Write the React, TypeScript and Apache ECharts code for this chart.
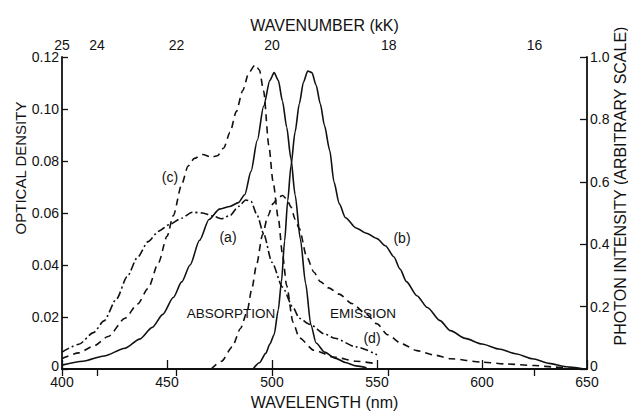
import React, { useEffect, useRef } from 'react';
import * as echarts from 'echarts';

// ---- data ----
// absorption, optical density (left axis)
const absorptionA: [number, number][] = [
  [400, 0.0015], [410, 0.003], [420, 0.005], [430, 0.008], [437, 0.0115], [443, 0.016],
  [448, 0.021], [453, 0.0275], [457, 0.0335], [461, 0.040], [465.5, 0.0495], [470, 0.0575],
  [475, 0.0615], [480, 0.0625], [484, 0.064], [487, 0.067], [490, 0.076], [493, 0.088],
  [496, 0.101], [499, 0.111], [501, 0.114], [503, 0.111], [505, 0.103], [507, 0.093],
  [509, 0.081], [511, 0.067], [513.5, 0.050], [516, 0.033], [518.5, 0.017], [521, 0.010],
  [525, 0.0065], [530, 0.0042], [535, 0.0025], [540, 0.0012], [545, 0.0005],
];
const absorptionC: [number, number][] = [
  [400, 0.004], [408, 0.0062], [415, 0.0088], [422, 0.0125], [430, 0.0195], [436, 0.025],
  [441, 0.031], [446, 0.041], [450, 0.051], [453, 0.059], [457, 0.071], [460, 0.078],
  [463, 0.081], [467, 0.0825], [471, 0.0815], [474, 0.082], [477, 0.085], [480, 0.091],
  [483, 0.099], [486, 0.107], [489, 0.114], [492, 0.117], [494, 0.115], [496, 0.107],
  [498.5, 0.086], [500.5, 0.072], [503, 0.058], [505, 0.044], [507, 0.032], [510, 0.018],
  [513, 0.012], [520, 0.0072], [530, 0.0045], [540, 0.003], [550, 0.002],
];
const absorptionDashDot: [number, number][] = [
  [400, 0.0065], [408, 0.0095], [415, 0.014], [420, 0.0185], [426, 0.027], [431, 0.0355],
  [436, 0.043], [441, 0.049], [446, 0.053], [451, 0.0555], [457, 0.058], [462, 0.0603],
  [467, 0.06], [472, 0.0588], [476, 0.0578], [480, 0.059], [484, 0.0625], [487.5, 0.065],
  [490, 0.0645], [493, 0.059], [496, 0.052], [500, 0.041], [505, 0.0315], [510, 0.0237],
  [513, 0.0195], [518, 0.0172], [525, 0.0135], [530, 0.0118], [540, 0.0085], [550, 0.0055],
];
// emission, photon intensity (right axis)
const emissionB: [number, number][] = [
  [491, 0], [494, 0.02], [497, 0.05], [499, 0.08], [501, 0.11], [503, 0.19], [504.5, 0.28],
  [506, 0.41], [507.5, 0.54], [509, 0.65], [511, 0.76], [513, 0.85], [515, 0.92],
  [517, 0.955], [519, 0.95], [521, 0.91], [523, 0.85], [525, 0.78], [527.5, 0.70],
  [529.5, 0.60], [532, 0.53], [535, 0.485], [540, 0.452], [545, 0.435], [550, 0.418],
  [554, 0.395], [558, 0.36], [561, 0.32], [564, 0.28], [569, 0.235], [574, 0.197],
  [580, 0.155], [585, 0.123], [592, 0.098], [600, 0.08], [608, 0.064], [616, 0.049],
  [624, 0.033], [632, 0.018], [640, 0.007], [648, 0.001],
];
const emissionD: [number, number][] = [
  [471, 0], [476, 0.025], [481, 0.07], [485, 0.13], [488, 0.18], [490.5, 0.26],
  [492.5, 0.33], [495.5, 0.43], [498, 0.49], [500.5, 0.53], [503, 0.55], [505, 0.556],
  [507, 0.545], [509, 0.52], [511, 0.48], [513, 0.45], [516.5, 0.36], [520, 0.31],
  [523, 0.28], [527, 0.26], [532, 0.24], [538, 0.21], [545, 0.175], [550, 0.145],
  [555, 0.11], [562, 0.08], [569, 0.059], [577, 0.045], [585, 0.033], [600, 0.022],
  [612, 0.016], [625, 0.011], [635, 0.006], [643, 0.002],
];

const wavenumberTicks = [25, 24, 22, 20, 18, 16]; // kK, top axis
const labelTexts = ['(a)', '(b)', '(c)', '(d)', 'ABSORPTION', 'EMISSION'];

const FONT = '"Liberation Sans", Arial, sans-serif';
const INK = '#111';

export default function App() {
  const ref = useRef<HTMLDivElement>(null);
  useEffect(() => {
    if (!ref.current) return;
    const chart = echarts.init(ref.current, undefined, { renderer: 'svg' });
    const line = (data: [number, number][], type: any, yAxisIndex = 0) => ({
      type: 'line',
      data,
      yAxisIndex,
      showSymbol: false,
      symbol: 'none',
      smooth: 0.25,
      smoothMonotone: 'x',
      lineStyle: { color: INK, width: 1.6, type },
      z: 3,
    });
    const tickLabel = { color: INK, fontFamily: FONT, fontSize: 14 };
    const axisLine = { show: true, lineStyle: { color: INK, width: 1.8 } };
    const zeroRich = { z: { color: INK, fontFamily: FONT, fontSize: 14, padding: [0, 0, 6, 0] } };
    const labelPos: [number, number][] = [
      [228, 237], [402, 238], [170, 177], [372, 338], [231, 313], [363, 313],
    ];
    chart.setOption({
      animation: false,
      backgroundColor: '#fff',
      grid: { left: 62, right: 41, top: 57, bottom: 43 },
      xAxis: [
        {
          type: 'value', min: 400, max: 650, interval: 50, position: 'bottom',
          name: 'WAVELENGTH (nm)', nameLocation: 'middle', nameGap: 25,
          nameTextStyle: { color: INK, fontFamily: FONT, fontSize: 16 },
          axisLine, splitLine: { show: false },
          axisTick: { inside: true, length: 9, lineStyle: { color: INK, width: 1.3 } },
          axisLabel: { ...tickLabel, margin: 6 },
        },
        {
          type: 'value', min: 400, max: 650, position: 'top',
          name: 'WAVENUMBER (kK)', nameLocation: 'middle', nameGap: 24,
          nameTextStyle: { color: INK, fontFamily: FONT, fontSize: 16 },
          axisLine, splitLine: { show: false },
          axisTick: {
            inside: true, length: 7, lineStyle: { color: INK, width: 1.3 },
            customValues: wavenumberTicks.map((k) => 10000 / k),
          },
          axisLabel: {
            ...tickLabel, margin: 5,
            customValues: wavenumberTicks.map((k) => 10000 / k),
            formatter: (v: number) => String(Math.round(10000 / v)),
          },
        },
      ],
      yAxis: [
        {
          type: 'value', min: 0, max: 0.12, interval: 0.02, position: 'left',
          axisLine, splitLine: { show: false },
          axisTick: { inside: true, length: 6, lineStyle: { color: INK, width: 1.3 } },
          axisLabel: {
            ...tickLabel, margin: 3, rich: zeroRich,
            formatter: (v: number) => (v === 0 ? '{z|0}' : v.toFixed(2)),
          },
        },
        {
          type: 'value', min: 0, max: 1, interval: 0.2, position: 'right',
          axisLine, splitLine: { show: false },
          axisTick: { inside: true, length: 7, lineStyle: { color: INK, width: 1.3 } },
          axisLabel: {
            ...tickLabel, margin: 3, rich: zeroRich,
            formatter: (v: number) => (v === 0 ? '{z|0}' : v.toFixed(1)),
          },
        },
      ],
      series: [
        line(absorptionA, 'solid'),
        line(absorptionC, [7, 5]),
        line(absorptionDashDot, [8, 3, 2, 3]),
        line(emissionB, 'solid', 1),
        line(emissionD, [7, 5], 1),
      ],
      graphic: [
        ...labelTexts.map((t, i) => ({
          type: 'text', x: labelPos[i][0], y: labelPos[i][1],
          style: {
            text: t, fill: INK, font: `${i >= 4 ? 13.5 : 14}px ${FONT}`,
            textAlign: 'center', textVerticalAlign: 'middle',
          },
          z: 10,
        })),
        {
          type: 'text', x: 20, y: 168, rotation: Math.PI / 2,
          style: { text: 'OPTICAL DENSITY', fill: INK, font: `15px ${FONT}`, textAlign: 'center', textVerticalAlign: 'middle' },
        },
        {
          type: 'text', x: 620, y: 186, rotation: Math.PI / 2,
          style: { text: 'PHOTON INTENSITY (ARBITRARY SCALE)', fill: INK, font: `16px ${FONT}`, textAlign: 'center', textVerticalAlign: 'middle' },
        },
      ],
    });
    return () => chart.dispose();
  }, []);
  return (
    <div
      ref={ref}
      style={{ position: 'fixed', left: 0, top: 0, width: 628, height: 415, background: '#fff' }}
    />
  );
}
